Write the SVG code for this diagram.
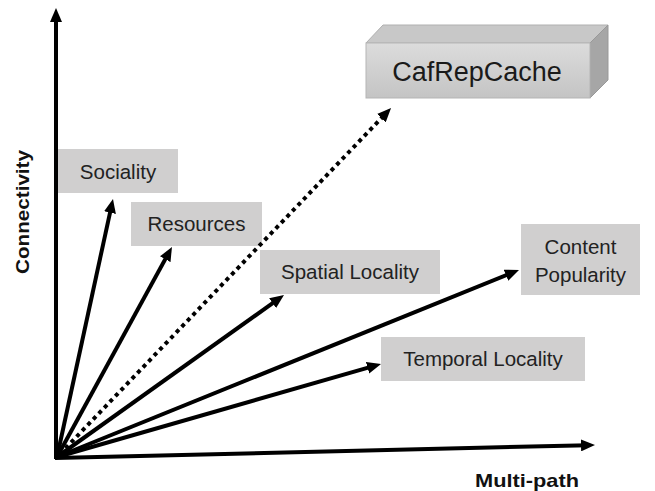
<svg xmlns="http://www.w3.org/2000/svg" width="655" height="491" viewBox="0 0 655 491">
<style>
.box{fill:#d0cfcf}
.lbl{font-family:"Liberation Sans",Arial,sans-serif;font-size:20.5px;fill:#222;text-anchor:middle;dominant-baseline:central}
.ax{font-family:"Liberation Sans",Arial,sans-serif;font-size:19px;font-weight:bold;fill:#111;text-anchor:middle}
.ln{stroke:#000;stroke-width:4;fill:none}
.dot{stroke:#000;stroke-width:4;fill:none;stroke-dasharray:4 4}
</style>
<defs>
<marker id="ah" markerUnits="userSpaceOnUse" markerWidth="14" markerHeight="12" viewBox="0 0 14 12" refX="7" refY="6" orient="auto">
<path d="M0,0 L14,6 L0,12 z" fill="#000"/>
</marker>
<linearGradient id="front" x1="0" y1="0" x2="0" y2="1">
<stop offset="0" stop-color="#dcdcdc"/>
<stop offset="1" stop-color="#c4c4c4"/>
</linearGradient>
</defs>
<rect width="655" height="491" fill="#fff"/>
<g id="nodes">
<g id="cafrepcache">
<polygon points="366,43 383,25 608,25 590,43" fill="#c8c8c8" stroke="#b0b0b0" stroke-width="1"/>
<polygon points="590,43 608,25 608,80 590,98" fill="#a6a6a6" stroke="#999" stroke-width="1"/>
<rect x="366" y="43" width="224" height="55" fill="url(#front)" stroke="#b5b5b5" stroke-width="1"/>
<text x="477" y="72" class="lbl" style="font-size:27px;fill:#1a1a1a">CafRepCache</text>
</g>
<g id="sociality"><rect class="box" x="58" y="149" width="120" height="44"/><text class="lbl" x="118" y="171">Sociality</text></g>
<g id="resources"><rect class="box" x="131" y="202" width="131" height="44"/><text class="lbl" x="196.5" y="223">Resources</text></g>
<g id="spatial"><rect class="box" x="260" y="250" width="180" height="44"/><text class="lbl" x="350" y="271">Spatial Locality</text></g>
<g id="content"><rect class="box" x="521" y="224" width="119" height="71"/><text class="lbl" x="580.5" y="246">Content</text><text class="lbl" x="580.5" y="274">Popularity</text></g>
<g id="temporal"><rect class="box" x="381" y="337" width="204" height="44"/><text class="lbl" x="483" y="358">Temporal Locality</text></g>
<g id="axis-labels">
<text class="ax" x="527" y="487" textLength="104" lengthAdjust="spacingAndGlyphs">Multi-path</text>
<text class="ax" transform="translate(29,212) rotate(-90)" textLength="124" lengthAdjust="spacingAndGlyphs">Connectivity</text>
</g>
</g>
<g id="connectors">
<line class="ln" x1="56" y1="459" x2="56" y2="15" marker-end="url(#ah)"/>
<line class="ln" x1="55" y1="458" x2="588" y2="445.2" marker-end="url(#ah)"/>
<line class="ln" x1="57" y1="457" x2="111.5" y2="205.8" marker-end="url(#ah)"/>
<line class="ln" x1="57" y1="457" x2="168.6" y2="253.1" marker-end="url(#ah)"/>
<line class="dot" x1="60" y1="454" x2="386.2" y2="113.1" marker-end="url(#ah)"/>
<line class="ln" x1="57" y1="457" x2="278.3" y2="299.1" marker-end="url(#ah)"/>
<line class="ln" x1="57" y1="457" x2="512.5" y2="272.6" marker-end="url(#ah)"/>
<line class="ln" x1="57" y1="457" x2="374.3" y2="365.9" marker-end="url(#ah)"/>
</g>
</svg>
